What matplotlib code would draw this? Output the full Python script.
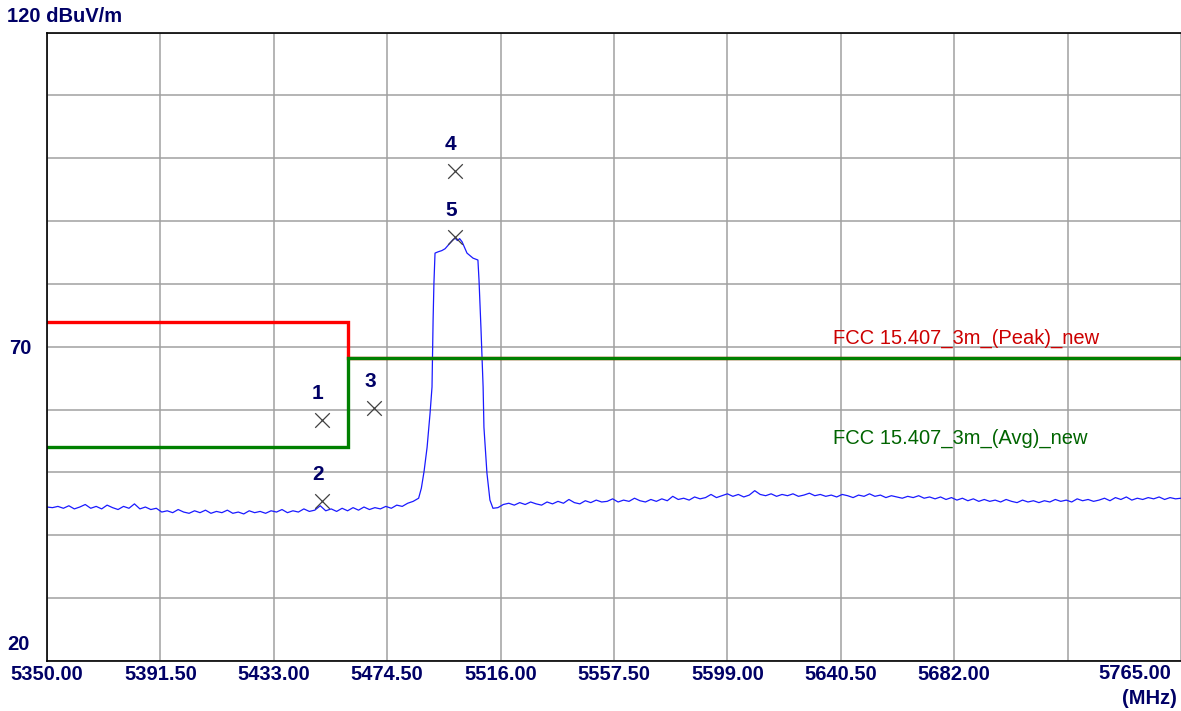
import numpy as np
import matplotlib
matplotlib.use("Agg")
import matplotlib.pyplot as plt
from matplotlib.transforms import ScaledTranslation, blended_transform_factory

plt.rcParams['font.family'] = ['Liberation Sans', 'DejaVu Sans']

NAVY = '#000066'
FS = 14.5

# ---- data -------------------------------------------------------------
x_ticks = [5350.00, 5391.50, 5433.00, 5474.50, 5516.00, 5557.50,
           5599.00, 5640.50, 5682.00, 5723.50, 5765.00]
x_tick_labels = ['5350.00', '5391.50', '5433.00', '5474.50', '5516.00',
                 '5557.50', '5599.00', '5640.50', '5682.00', '', '']

# noise floor below the channel, 5350 .. 5486 MHz in 2 MHz steps
left_levels = [44.5, 44.4, 44.6, 44.3, 44.7, 44.2, 44.5, 44.9, 44.3, 44.6,
               44.2, 44.8, 44.4, 44.1, 44.6, 44.3, 45.0, 44.2, 44.5, 44.1,
               44.3, 43.7, 43.9, 43.6, 44.1, 43.7, 43.5, 43.9, 43.6, 44.0,
               43.5, 43.8, 43.6, 44.0, 43.5, 43.7, 43.4, 43.9, 43.6, 43.8,
               43.5, 43.9, 43.7, 44.1, 43.6, 43.9, 43.7, 44.2, 43.8, 44.0,
               44.7, 43.9, 44.2, 43.8, 44.3, 43.9, 44.4, 44.0, 44.5, 44.1,
               44.4, 44.2, 44.6, 44.3, 44.8, 44.6, 45.1, 45.4, 45.9]
left_freq = np.arange(5350, 5487, 2)

# channel (5500 MHz, 20 MHz wide)
sig_freq = [5487.0, 5488.0, 5489.1, 5490.2, 5490.9, 5491.3, 5491.6, 5492.0,
            5493.1, 5494.5, 5495.7, 5497.5, 5498.5, 5499.3, 5500.2, 5501.0,
            5501.9, 5503.7, 5505.9, 5507.7, 5508.1, 5508.8, 5509.6, 5509.9,
            5511.0, 5512.1, 5513.2]
sig_levels = [47.5, 50.2, 54.0, 59.5, 63.6, 74.3, 80.1, 84.9,
              85.1, 85.3, 85.6, 86.5, 87.0, 87.3, 86.9, 87.2,
              86.7, 84.9, 84.1, 83.8, 80.6, 73.1, 63.6, 57.2,
              49.9, 45.6, 44.3]

# noise floor above the channel, 5515 .. 5765 MHz in 2 MHz steps
right_levels = [44.4, 44.9, 45.1, 44.8, 45.2, 44.9, 45.3, 45.0, 44.8, 45.3,
                45.0, 45.4, 45.1, 45.7, 45.2, 45.0, 45.5, 45.2, 45.6, 45.3,
                45.4, 45.8, 45.3, 45.6, 45.4, 45.9, 45.5, 45.3, 45.7, 45.4,
                45.8, 45.5, 46.2, 45.7, 45.9, 45.6, 46.1, 45.8, 46.0, 46.5,
                46.0, 46.3, 46.6, 46.2, 46.5, 46.1, 46.4, 47.1, 46.5, 46.3,
                46.6, 46.2, 46.5, 46.3, 46.6, 46.2, 46.4, 46.7, 46.3, 46.5,
                46.2, 46.4, 46.1, 46.5, 46.3, 46.0, 46.4, 46.2, 46.6, 46.2,
                46.4, 46.0, 46.3, 46.1, 45.9, 46.2, 46.0, 46.3, 45.9, 46.1,
                45.8, 46.1, 45.7, 46.0, 45.6, 45.9, 45.5, 45.8, 45.4, 45.7,
                45.4, 45.6, 45.3, 45.7, 45.4, 45.2, 45.6, 45.3, 45.5, 45.2,
                45.5, 45.3, 45.7, 45.4, 45.6, 45.3, 45.8, 45.5, 45.7, 45.4,
                45.6, 45.9, 45.5, 46.0, 45.7, 46.1, 45.6, 45.9, 45.7, 46.0,
                45.8, 46.1, 45.7, 46.0, 45.8, 45.9]
right_freq = np.arange(5515, 5766, 2)

peak_freq = [5350, 5460, 5460, 5765]
peak_level = [74, 74, 68.2, 68.2]
avg_freq = [5350, 5460, 5460, 5765]
avg_level = [54, 54, 68.2, 68.2]

marker_ids = ['1', '2', '3', '4', '5']
marker_freq = [5450.6, 5450.6, 5469.7, 5499.3, 5499.3]
marker_level = [58.3, 45.5, 60.3, 98.0, 87.5]

# ---- figure -----------------------------------------------------------
fig = plt.figure(figsize=(11.81, 7.11), dpi=100)
ax = fig.add_axes([47 / 1181, 1 - 661 / 711, 1 - 47 / 1181, (661 - 32.5) / 711])

ax.set_xlim(5350, 5765)
ax.set_ylim(20, 120)
ax.set_yticks(np.arange(20, 121, 10))
ax.set_yticklabels(['' if v != 70 else '70' for v in range(20, 121, 10)])
ax.set_xticks(x_ticks)
ax.set_xticklabels(x_tick_labels)
ax.grid(True, color='#a0a0a0', linewidth=1.1)
ax.set_axisbelow(True)
ax.tick_params(length=0, pad=3, labelsize=FS, labelcolor=NAVY)
for lab in ax.get_xticklabels() + ax.get_yticklabels():
    lab.set_fontweight('bold')
ax.tick_params(axis='y', pad=11)
for s in ['left', 'bottom', 'top']:
    ax.spines[s].set_color('black')
    ax.spines[s].set_linewidth(1.2)
ax.spines['right'].set_visible(False)

# trace
freq = np.concatenate([left_freq, sig_freq, right_freq])
level = np.concatenate([left_levels, sig_levels, right_levels])
ax.plot(freq, level, color='#1a1aff', linewidth=0.9)

# limit lines
ax.plot(peak_freq, peak_level, color='#ff0000', linewidth=2.4, solid_joinstyle='miter')
ax.plot(avg_freq, avg_level, color='#008000', linewidth=2.4, solid_joinstyle='miter')
ax.text(5637.6, 71.4, 'FCC 15.407_3m_(Peak)_new', color='#cc0000', fontsize=FS,
        va='center', ha='left')
ax.text(5637.6, 55.5, 'FCC 15.407_3m_(Avg)_new', color='#006400', fontsize=FS,
        va='center', ha='left')

# markers
ax.scatter(marker_freq, marker_level, marker='x', s=110, color='#404040',
           linewidths=0.9, zorder=5)
for mid, f, l in zip(marker_ids, marker_freq, marker_level):
    ax.annotate(mid, (f, l), xytext=(-3, 19), textcoords='offset points',
                ha='center', va='center', color=NAVY, fontsize=FS + 0.5, fontweight='bold')

# axis texts
ytr = blended_transform_factory(fig.transFigure, ax.transData)
ax.text(7 / 1181, 20, '20', transform=ytr + ScaledTranslation(0, 16 / 100, fig.dpi_scale_trans),
        ha='left', va='center', color=NAVY, fontsize=FS, fontweight='bold')
fig.text(7 / 1181, 1 - 17 / 711, '120 dBuV/m', ha='left', va='center',
         color=NAVY, fontsize=FS, fontweight='bold')
xtr = blended_transform_factory(ax.transData, ax.transAxes)
ax.text(5765, 0, '5765.00', transform=xtr + ScaledTranslation(-10 / 100, -3 / 100, fig.dpi_scale_trans),
        ha='right', va='top', color=NAVY, fontsize=FS, fontweight='bold')
fig.text(1177 / 1181, 1 - 698 / 711, '(MHz)', ha='right', va='center',
         color=NAVY, fontsize=FS, fontweight='bold')

fig.savefig('out.png', dpi=100)
